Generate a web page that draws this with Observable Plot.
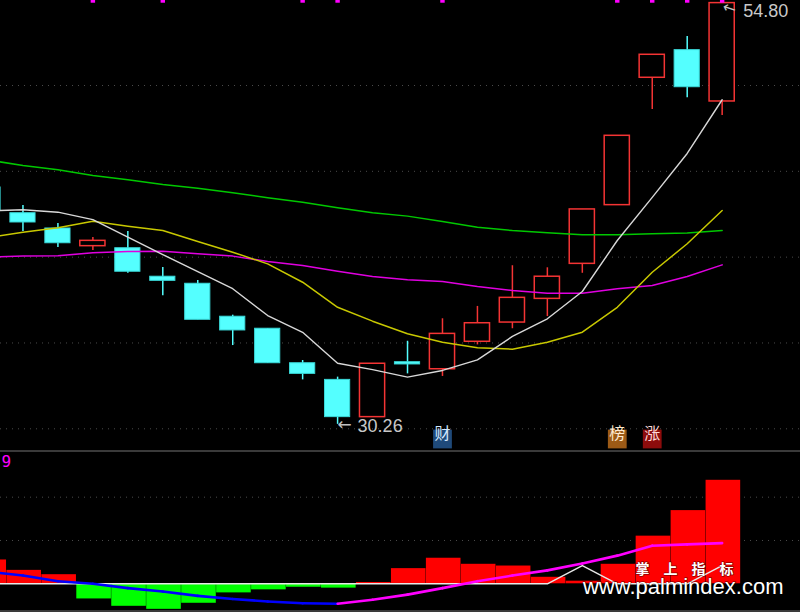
<!DOCTYPE html>
<html><head><meta charset="utf-8">
<script src="https://cdn.jsdelivr.net/npm/d3@7"></script>
<script src="https://cdn.jsdelivr.net/npm/@observablehq/plot@0.6"></script>
<style>
html,body{margin:0;padding:0;background:#000;}
#chart{width:800px;height:612px;position:relative;overflow:hidden;background:#000;}
#chart svg{display:block;overflow:hidden;}
#sub{border-top:2px solid #3a3a3a;border-bottom:2px solid #3a3a3a;}
</style></head><body><div id="chart"><div id="main"></div><div id="sub"></div></div>
<script>
// ---- data (candle index 0 is partly off the left edge) ----
const idx = d3.range(22);
const openP  = [44.06, 42.56, 41.67, 40.64, 40.52, 38.86, 38.45, 36.53, 35.83, 33.82, 32.85, 30.68, 33.88, 33.47, 35.07, 36.19, 37.57, 39.61, 43.03, 50.45, 52.06, 49.07];
const highP  = [44.30, 43.01, 41.96, 41.14, 41.49, 39.40, 38.64, 36.62, 35.83, 33.98, 33.01, 33.79, 35.10, 36.41, 37.13, 39.50, 39.38, 42.78, 47.07, 51.79, 52.85, 54.80];
const lowP   = [42.50, 41.49, 40.56, 40.39, 39.06, 37.75, 36.35, 34.85, 33.82, 32.85, 30.26, 30.68, 33.20, 33.05, 34.89, 35.83, 36.54, 39.06, 43.03, 48.60, 49.28, 48.25];
const closeP = [42.72, 42.02, 40.81, 40.95, 39.15, 38.62, 36.35, 35.73, 33.82, 33.20, 30.68, 33.79, 33.75, 35.53, 36.15, 37.63, 38.86, 42.78, 47.07, 51.79, 49.90, 54.80];
const ma5  = [42.70, 42.76, 42.62, 42.19, 41.16, 40.15, 39.16, 38.16, 36.60, 35.62, 33.82, 33.45, 33.01, 33.40, 34.02, 35.38, 36.41, 38.00, 40.97, 43.48, 46.04, 49.17];
const ma10 = [41.14, 41.45, 41.71, 42.09, 41.80, 41.55, 40.91, 40.29, 39.61, 38.54, 37.08, 36.27, 35.54, 35.04, 34.72, 34.64, 35.04, 35.63, 37.08, 39.12, 40.78, 42.72];
const ma20 = [40.00, 40.06, 40.08, 40.25, 40.33, 40.35, 40.20, 40.06, 39.75, 39.51, 39.18, 38.87, 38.68, 38.58, 38.29, 38.06, 37.90, 37.90, 38.16, 38.35, 38.87, 39.55];
const ma60 = [45.66, 45.34, 45.09, 44.76, 44.51, 44.23, 44.02, 43.75, 43.46, 43.20, 42.88, 42.59, 42.39, 42.08, 41.74, 41.55, 41.42, 41.30, 41.30, 41.36, 41.40, 41.55];
const priceTicks = [30, 35, 40, 45, 50];
const topMarks = [3, 5, 9, 10, 13, 18, 19, 20, 21];
const badgeIdx = [13, 18, 19];
const badgeText = ["财", "榜", "涨"];
const highLabel = {i: 21, p: 54.80};
const lowLabel = {i: 10, p: 30.26};

// lower indicator panel
const hist   = [0.55, 0.31, 0.21, -0.35, -0.52, -0.59, -0.45, -0.21, -0.14, -0.08, -0.10, 0.03, 0.35, 0.59, 0.45, 0.41, 0.15, 0.06, 0.45, 1.10, 1.69, 2.39];
const signal = [0.28, 0.19, 0.06, 0.00, -0.10, -0.18, -0.28, -0.35, -0.41, -0.45, -0.46, -0.37, -0.25, -0.10, 0.06, 0.19, 0.31, 0.47, 0.65, 0.88, 0.91, 0.94];
const whiteLine = [0, 0, 0, 0, 0, 0, 0, 0, 0, 0, 0, 0, 0, 0, 0, 0, 0, 0.42, 0, 0, 0, 0.42];
const subTicks = [1, 2];
const subLabel = "9";

// ---- build ----
const RED = "#f43434", CYAN = "#54ffff";
const candles = idx.map(i => ({i, open: openP[i], high: highP[i], low: lowP[i], close: closeP[i],
  ma5: ma5[i], ma10: ma10[i], ma20: ma20[i], ma60: ma60[i]}));
const ups = candles.filter(d => d.close >= d.open);
const downs = candles.filter(d => d.close < d.open);
const hw = 0.36;
const xDomain = [0.3575, 23.241];
const badgeStyle = {"财": ["#1f4a7a", "#d2e8ff"], "榜": ["#9c5a16", "#ffead0"], "涨": ["#8c0c0c", "#ffd8d8"]};
const badges = badgeIdx.map((i, k) => ({i, t: badgeText[k]}));

const labelFont = "Liberation Sans, Arial, sans-serif";
const main = Plot.plot({
  width: 800, height: 450, margin: 0,
  style: {background: "#000"},
  x: {domain: xDomain, axis: null},
  y: {domain: [28.736, 54.952], axis: null},
  marks: [
    Plot.ruleY(priceTicks, {stroke: "#4a4a4a", strokeDasharray: "1,5"}),
    Plot.ruleX(ups, {x: "i", y1: "low", y2: "high", stroke: RED, strokeWidth: 1.5, clip: true}),
    Plot.ruleX(downs, {x: "i", y1: "low", y2: "high", stroke: CYAN, strokeWidth: 1.5, clip: true}),
    Plot.rect(ups, {x1: d => d.i - hw, x2: d => d.i + hw, y1: "open", y2: "close", fill: "#000", stroke: RED, strokeWidth: 1.5, clip: true}),
    Plot.rect(downs, {x1: d => d.i - hw, x2: d => d.i + hw, y1: "open", y2: "close", fill: CYAN, stroke: "#3ad8d8", strokeWidth: 1, clip: true}),
    Plot.line(candles, {x: "i", y: "ma60", stroke: "#00c800", strokeWidth: 1.5, clip: true}),
    Plot.line(candles, {x: "i", y: "ma20", stroke: "#e000e0", strokeWidth: 1.5, clip: true}),
    Plot.line(candles, {x: "i", y: "ma10", stroke: "#c8c800", strokeWidth: 1.5, clip: true}),
    Plot.line(candles, {x: "i", y: "ma5", stroke: "#d8d8d8", strokeWidth: 1.4, clip: true}),
    Plot.dot(topMarks, {x: d => d, frameAnchor: "top", symbol: "square", r: 2.5, fill: "#ff00ff"}),
    // price annotations
    Plot.text([highLabel], {x: "i", y: "p", text: () => "←", textAnchor: "start", rotate: 18, dx: 1, dy: 3, fill: "#c0c0c0", fontSize: 16, fontFamily: "DejaVu Sans"}),
    Plot.text([highLabel], {x: "i", y: "p", text: d => d.p.toFixed(2), textAnchor: "start", dx: 21, dy: 8, fill: "#c8c8c8", fontSize: 18, fontFamily: labelFont}),
    Plot.text([lowLabel], {x: "i", y: "p", text: () => "←", textAnchor: "start", dx: 0, dy: 0, fill: "#c0c0c0", fontSize: 17, fontFamily: "DejaVu Sans"}),
    Plot.text([lowLabel], {x: "i", y: "p", text: d => d.p.toFixed(2), textAnchor: "start", dx: 20, dy: 1.5, fill: "#c8c8c8", fontSize: 18, fontFamily: labelFont}),
    // signal badges
    Plot.dot(badges, {x: "i", frameAnchor: "bottom", dy: -11.5, symbol: "square", r: 10.6, fill: d => badgeStyle[d.t][0]}),
    Plot.text(badges, {x: "i", frameAnchor: "bottom", dy: -11.5, text: "t", fill: d => badgeStyle[d.t][1], fontSize: 16, fontFamily: "Noto Sans CJK SC"})
  ]
});
document.getElementById("main").appendChild(main);

const bars = idx.map(i => ({i, v: hist[i]}));
const segs = idx.slice(1).map(i => ({x1: i - 1, y1: signal[i - 1], x2: i, y2: signal[i], up: signal[i] >= signal[i - 1]}));
const wl = idx.map(i => ({i, v: whiteLine[i]}));

const sub = Plot.plot({
  width: 800, height: 158, margin: 0,
  style: {background: "#000"},
  x: {domain: xDomain, axis: null},
  y: {domain: [-0.617, 3.032], axis: null},
  marks: [
    Plot.ruleY(subTicks, {stroke: "#4a4a4a", strokeDasharray: "1,5"}),
    Plot.rect(bars.filter(d => d.v > 0), {x1: d => d.i - 0.46, x2: d => d.i + 0.53, y1: 0, y2: "v", fill: "#ff0000", clip: true}),
    Plot.rect(bars.filter(d => d.v < 0), {x1: d => d.i - 0.46, x2: d => d.i + 0.53, y1: 0, y2: "v", fill: "#00ff00", clip: true}),
    Plot.line(wl, {x: "i", y: "v", stroke: "#e8e8e8", strokeWidth: 1.4, clip: true}),
    Plot.link(segs.filter(d => !d.up), {x1: "x1", y1: "y1", x2: "x2", y2: "y2", stroke: "#0000ff", strokeWidth: 2.6, strokeLinecap: "round", clip: true}),
    Plot.link(segs.filter(d => d.up), {x1: "x1", y1: "y1", x2: "x2", y2: "y2", stroke: "#ff00ff", strokeWidth: 2.6, strokeLinecap: "round", clip: true}),
    Plot.text([subLabel], {frameAnchor: "top-left", text: d => d, dx: 1, dy: 3, lineAnchor: "top", fill: "#ff00ff", fontSize: 16, fontFamily: "DejaVu Sans Mono"}),
    Plot.text(["掌\u2003上\u2003指\u2003标"], {frameAnchor: "bottom-right", text: d => d, textAnchor: "end", lineAnchor: "bottom", dx: -67, dy: -37, fill: "#ffffff", fontWeight: "bold", fontSize: 14, fontFamily: "Noto Sans CJK SC", stroke: "rgba(0,0,0,0.45)", strokeWidth: 1.5, paintOrder: "stroke"}),
    Plot.text(["www.palmindex.com"], {frameAnchor: "bottom-right", text: d => d, textAnchor: "end", lineAnchor: "bottom", dx: -17, dy: -17, fill: "#ffffff", fontSize: 22, fontFamily: labelFont, stroke: "rgba(0,0,0,0.45)", strokeWidth: 1.5, paintOrder: "stroke"})
  ]
});
document.getElementById("sub").appendChild(sub);
</script>
</body></html>
